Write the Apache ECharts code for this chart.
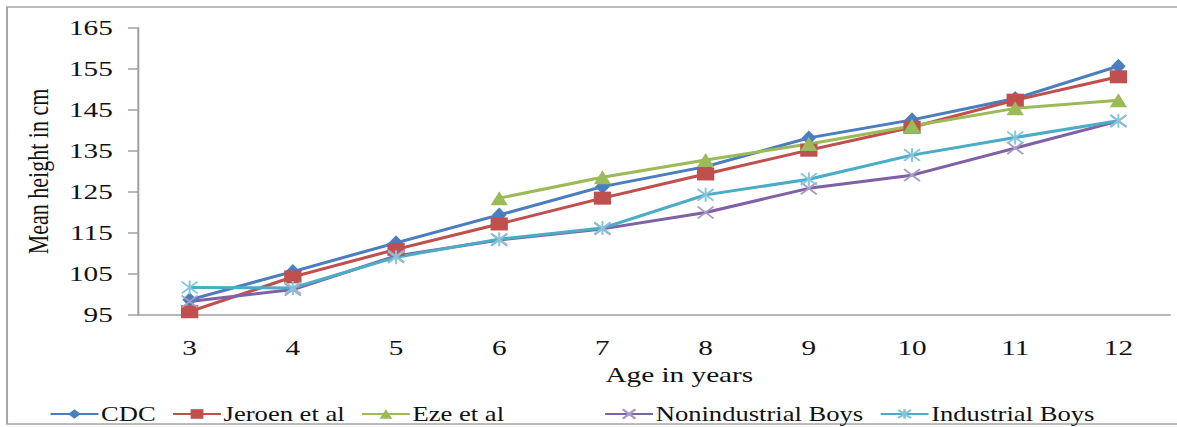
<!DOCTYPE html>
<html>
<head>
<meta charset="utf-8">
<script src="https://cdn.jsdelivr.net/npm/echarts@6/dist/echarts.min.js"></script>
<style>
  html, body { margin: 0; padding: 0; background: #fff; overflow: hidden; }
  #wrap { width: 1177px; height: 427px; overflow: hidden; position: relative; }
  /* the chart is laid out narrow and widened horizontally */
  #chart { width: 885px; height: 427px; transform: scaleX(1.33); transform-origin: 0 0; }
</style>
</head>
<body>
<div id="wrap"><div id="chart"></div></div>
<script>
// Mean height (cm) by age
const ages = ['3', '4', '5', '6', '7', '8', '9', '10', '11', '12'];
const cdc = [98.7, 105.6, 112.6, 119.4, 126.3, 131.2, 138.2, 142.6, 147.8, 155.7];
const jeroen = [95.8, 104.3, 111.0, 117.2, 123.5, 129.4, 135.2, 140.8, 147.4, 153.1];
const eze = [null, null, null, 123.5, 128.6, 132.8, 136.7, 141.1, 145.4, 147.4];
const nonindustrial = [98.3, 101.2, 109.4, 113.3, 116.0, 120.0, 125.9, 129.1, 135.7, 142.3];
const industrial = [101.7, 101.6, 109.1, 113.5, 116.2, 124.3, 128.1, 134.0, 138.3, 142.4];
const yTicks = { min: 95, max: 165, step: 10 };
const legendLeft = ['CDC', 'Jeroen et al', 'Eze et al'];
const legendRight = ['Nonindustrial Boys', 'Industrial Boys'];

const FONT = "'Liberation Serif', 'Times New Roman', serif";
const crossPath = 'path://M0,0L10,10M10,0L0,10';
const starPath = 'path://M0,1L10,11M10,1L0,11M5,0L5,12';

function lineSeries(name, data, lineColor, symbol, size, markColor, stroked) {
  return {
    name: name,
    type: 'line',
    data: data,
    symbol: symbol,
    symbolSize: size,
    connectNulls: false,
    lineStyle: { color: lineColor, width: 3 },
    itemStyle: stroked
      ? { color: markColor, borderColor: markColor, borderWidth: 1.6 }
      : { color: markColor, borderColor: markColor, borderWidth: 0 },
    emphasis: { disabled: true }
  };
}

function legendBlock(names, left) {
  return {
    left: left,
    top: 399,
    itemWidth: 36,
    itemHeight: 12,
    itemGap: 12,
    textStyle: { fontFamily: FONT, fontSize: 20, color: '#111', padding: [0, 0, 0, -3] },
    data: names
  };
}

const chart = echarts.init(document.getElementById('chart'), null, { renderer: 'svg' });
chart.setOption({
  animation: false,
  backgroundColor: '#ffffff',
  textStyle: { fontFamily: FONT, color: '#111' },
  graphic: [{
    type: 'rect',
    shape: { x: 5.3, y: 7, width: 900, height: 417 },
    style: { fill: 'none', stroke: '#a6a6a6', lineWidth: 1.5 },
    silent: true
  }],
  grid: { left: 103.8, right: 5.3, top: 28, bottom: 112 },
  legend: [legendBlock(legendLeft, 32), legendBlock(legendRight, 449)],
  xAxis: {
    type: 'category',
    data: ages,
    boundaryGap: true,
    name: 'Age in years',
    nameLocation: 'middle',
    nameGap: 44,
    nameTextStyle: { fontFamily: FONT, fontSize: 22, color: '#111', padding: [0, 0, 0, 38] },
    axisLine: { lineStyle: { color: '#a0a0a0', width: 1.5 } },
    axisTick: { show: false },
    axisLabel: { fontFamily: FONT, fontSize: 22, color: '#111', margin: 22 },
    splitLine: { show: false }
  },
  yAxis: {
    type: 'value',
    min: yTicks.min,
    max: yTicks.max,
    interval: yTicks.step,
    name: 'Mean height in cm',
    nameLocation: 'middle',
    nameGap: 64,
    nameTextStyle: { fontFamily: FONT, fontSize: 22, color: '#111' },
    axisLine: { show: true, lineStyle: { color: '#a0a0a0', width: 1.5 } },
    axisTick: { show: true, inside: false, length: 7.5, lineStyle: { color: '#a0a0a0', width: 1.5 } },
    axisLabel: { fontFamily: FONT, fontSize: 22, color: '#111', margin: 19 },
    splitLine: { show: false }
  },
  series: [
    lineSeries('CDC', cdc, '#4a7ebf', 'diamond', [11, 15], '#4a7ebf', false),
    lineSeries('Jeroen et al', jeroen, '#c0504d', 'rect', [13, 13], '#c0504d', false),
    lineSeries('Eze et al', eze, '#9bbb59', 'triangle', [13, 14], '#9bbb59', false),
    lineSeries('Nonindustrial Boys', nonindustrial, '#7f62a6', crossPath, [12, 12], '#a99cc4', true),
    lineSeries('Industrial Boys', industrial, '#4bacc6', starPath, [12, 14], '#86c6da', true)
  ]
});
</script>
</body>
</html>
